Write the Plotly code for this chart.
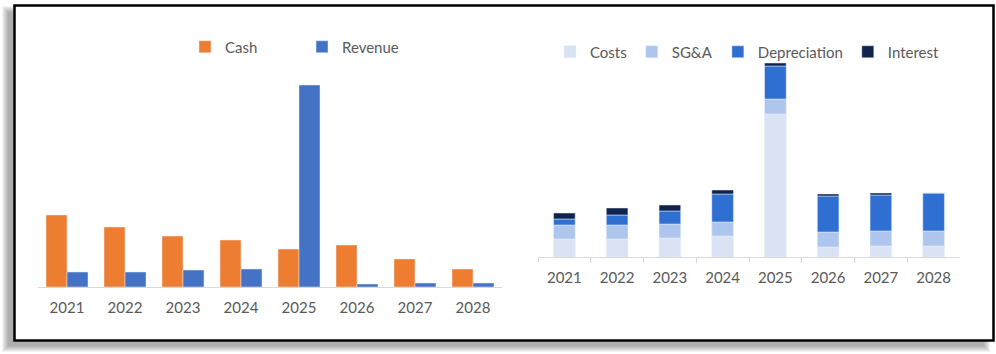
import numpy as np
import plotly.graph_objects as go

W, H = 996, 354

years = ["2021", "2022", "2023", "2024", "2025", "2026", "2027", "2028"]

# Left chart
cash = [72, 60, 51, 47, 38, 42, 28, 18]
revenue = [15, 15, 17, 18, 202, 3, 4, 4]

# Right chart (stacked)
costs = [18, 18, 19, 21, 143, 10, 11, 11]
sga = [14, 14, 14, 14, 15, 15, 15, 15]
depreciation = [6, 10, 13, 28, 33, 36, 36, 38]
interest = [6, 7, 6, 4, 3, 2, 2, 0]

FONT = "Lato"
GRAY = "#595959"

def px_x(p):
    return p / W

def px_y(p):
    return 1 - p / H

fig = go.Figure()

# Left grouped bars (explicit width/offset)
lw = 0.362
fig.add_trace(go.Bar(x=years, y=cash, name="Cash", marker_color="#ED7D31",
                     width=lw, offset=-lw, xaxis="x", yaxis="y", legend="legend"))
fig.add_trace(go.Bar(x=years, y=revenue, name="Revenue", marker_color="#4472C4",
                     width=lw, offset=0, xaxis="x", yaxis="y", legend="legend"))

# Right stacked bars
rw = 0.41
stack = [("Costs", costs, "#DAE3F3"), ("SG&A", sga, "#AEC6EE"),
         ("Depreciation", depreciation, "#2F6FD2"), ("Interest", interest, "#10234D")]
base = np.zeros(len(years))
for name, vals, col in stack:
    fig.add_trace(go.Bar(x=years, y=vals, base=base.copy(), name=name, marker_color=col,
                         width=rw, xaxis="x2", yaxis="y2", legend="legend2"))
    base = base + np.array(vals)

# Frame with shadow (offset down-left)
shapes = []
for r in range(0, 7):
    shapes.append(dict(type="rect", xref="paper", yref="paper",
                       x0=px_x(8 - r), x1=px_x(984 + r),
                       y0=px_y(346 + r), y1=px_y(12 - r),
                       fillcolor="rgba(0,0,0,0.05)", line=dict(width=0), layer="below"))
shapes.append(dict(type="rect", xref="paper", yref="paper",
                   x0=px_x(14.5), x1=px_x(993.5), y0=px_y(340.5), y1=px_y(5.5),
                   fillcolor="white", line=dict(color="black", width=2.5), layer="below"))

axis_common = dict(showgrid=False, zeroline=False, linecolor="#D9D9D9", linewidth=1,
                   showline=True, tickfont=dict(family=FONT, size=15, color=GRAY),
                   fixedrange=True)

fig.update_layout(
    width=W, height=H, autosize=False,
    margin=dict(l=0, r=0, t=0, b=0),
    paper_bgcolor="white", plot_bgcolor="rgba(0,0,0,0)",
    barmode="overlay",
    font=dict(family=FONT, color=GRAY),
    shapes=shapes,
    xaxis=dict(domain=[px_x(38), px_x(502)], anchor="y", ticks="", ticklabelstandoff=7,
               **axis_common),
    yaxis=dict(domain=[px_y(287), px_y(77)], range=[0, 210], visible=False, anchor="x"),
    xaxis2=dict(domain=[px_x(538), px_x(960)], anchor="y2", ticks="outside", ticklen=5,
                tickcolor="#D9D9D9", tickson="boundaries", ticklabelstandoff=7,
                **axis_common),
    yaxis2=dict(domain=[px_y(257), px_y(57)], range=[0, 200], visible=False, anchor="x2"),
    legend=dict(orientation="h", x=px_x(185), y=px_y(47), xanchor="left", yanchor="middle",
                entrywidth=72, entrywidthmode="pixels",
                font=dict(family=FONT, size=15, color=GRAY), bgcolor="rgba(0,0,0,0)"),
    legend2=dict(orientation="h", x=px_x(550), y=px_y(52), xanchor="left", yanchor="middle",
                 font=dict(family=FONT, size=15, color=GRAY), bgcolor="rgba(0,0,0,0)"),
)

fig.write_html("out.html")
